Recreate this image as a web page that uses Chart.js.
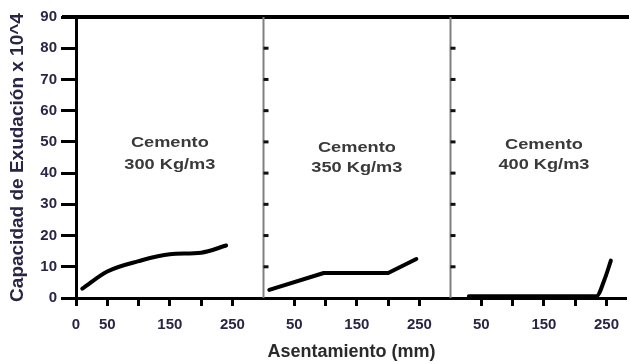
<!DOCTYPE html>
<html>
<head>
<meta charset="utf-8">
<script src="https://cdn.jsdelivr.net/npm/chart.js@4.4.1/dist/chart.umd.min.js"></script>
<style>
html,body{margin:0;padding:0;background:#fff;}
#wrap{width:629px;height:364px;}
</style>
</head>
<body>
<div id="wrap"><canvas id="c" width="629" height="364"></canvas></div>
<script>
// ---- data (panel-local x in mm, y = capacidad x 10^4) ----
const panelNames = ["Cemento", "Cemento", "Cemento"];
const panelDoses = ["300 Kg/m3", "350 Kg/m3", "400 Kg/m3"];
const slump300 = [10, 50, 100, 150, 200, 240];
const bleed300 = [3, 8.5, 11.8, 14.0, 14.5, 16.8];
const slump350 = [10, 97, 200, 245];
const bleed350 = [2.6, 8, 8, 12.5];
const slump400 = [30, 234, 247, 257];
const bleed400 = [0.6, 0.6, 6, 12];
const yTicks = [0, 10, 20, 30, 40, 50, 60, 70, 80, 90];
const xTicksFirst = [0, 50, 100, 150, 200, 250];
const xTicksOther = [50, 100, 150, 200, 250];
const xLabelsShown = [0, 50, 150, 250];

const PANEL = 299;      // width of one panel in x units
const XMAX = 880.6;
const FONT = '"Liberation Sans", Arial, sans-serif';

function pts(xs, ys, k) { return xs.map((x, i) => ({x: x + k * PANEL, y: ys[i]})); }

const tickVals = [];
xTicksFirst.forEach(v => tickVals.push({value: v, local: v}));
[1, 2].forEach(k => xTicksOther.forEach(v => tickVals.push({value: v + k * PANEL, local: v})));

const framePlugin = {
  id: 'frame',
  afterDatasetsDraw(chart) {
    const {ctx, chartArea: a, scales: {x, y}} = chart;
    ctx.save();
    ctx.strokeStyle = '#000';
    ctx.lineWidth = 4;
    ctx.beginPath();
    ctx.moveTo(a.left - 14, a.top);
    ctx.lineTo(chart.width, a.top);
    ctx.stroke();
    [1, 2].forEach(k => {
      const px = Math.round(x.getPixelForValue(k * PANEL)) + 0.5;
      ctx.strokeStyle = '#808080';
      ctx.lineWidth = 2;
      ctx.beginPath();
      ctx.moveTo(px, a.top);
      ctx.lineTo(px, a.bottom);
      ctx.stroke();
      ctx.strokeStyle = '#111';
      ctx.lineWidth = 3;
      for (let v = 10; v <= 80; v += 10) {
        const py = y.getPixelForValue(v);
        ctx.beginPath();
        ctx.moveTo(px, py);
        ctx.lineTo(px + 5, py);
        ctx.stroke();
      }
    });
    ctx.fillStyle = '#3a3a3a';
    ctx.font = 'bold 14px ' + FONT;
    ctx.textAlign = 'center';
    ctx.textBaseline = 'middle';
    const lineY = [[49.5, 42.6], [48, 41.6], [49, 42.6]];
    [0, 1, 2].forEach(k => {
      const cx = x.getPixelForValue(150 + k * PANEL);
      [panelNames[k], panelDoses[k]].forEach((t, j) => {
        const cy = y.getPixelForValue(lineY[k][j]);
        ctx.save();
        ctx.translate(cx, cy);
        ctx.scale(1.3, 1);
        ctx.fillText(t, 0, 0);
        ctx.restore();
      });
    });
    ctx.restore();
  }
};

const lineStyle = {borderColor: '#000', borderWidth: 4, pointRadius: 0, fill: false, clip: false, borderCapStyle: 'round', borderJoinStyle: 'round'};

new Chart(document.getElementById('c'), {
  type: 'line',
  data: {
    datasets: [
      Object.assign({label: '300', data: pts(slump300, bleed300, 0), cubicInterpolationMode: 'monotone'}, lineStyle),
      Object.assign({label: '350', data: pts(slump350, bleed350, 1), tension: 0}, lineStyle),
      Object.assign({label: '400', data: pts(slump400, bleed400, 2), cubicInterpolationMode: 'monotone'}, lineStyle)
    ]
  },
  options: {
    responsive: false,
    animation: false,
    layout: {padding: {top: 17, right: 0, left: 0, bottom: 0}},
    plugins: {legend: {display: false}, tooltip: {enabled: false}},
    scales: {
      x: {
        type: 'linear',
        min: 0,
        max: XMAX,
        afterFit(s) { s.height = 66; },
        afterBuildTicks(s) { s.ticks = tickVals.map(t => ({value: t.value})); },
        ticks: {
          autoSkip: false,
          maxRotation: 0,
          padding: 10,
          color: '#2a2545',
          font: {family: FONT, size: 15, weight: 'bold'},
          callback(value) {
            const t = tickVals.find(o => Math.abs(o.value - value) < 0.01);
            return t && xLabelsShown.includes(t.local) ? String(t.local) : '';
          }
        },
        grid: {drawOnChartArea: false, drawTicks: true, tickLength: 8, tickWidth: 3, tickColor: '#000'},
        border: {display: true, color: '#000', width: 3},
        title: {
          display: true,
          text: 'Asentamiento (mm)',
          color: '#2a2a2a',
          font: {family: FONT, size: 18, weight: 'bold'},
          padding: {top: 0, bottom: 1}
        }
      },
      y: {
        min: 0,
        max: 90,
        afterFit(s) { s.width = 76; },
        afterBuildTicks(s) { s.ticks = yTicks.map(v => ({value: v})); },
        ticks: {
          padding: 4,
          color: '#2a2545',
          font: {family: FONT, size: 15, weight: 'bold'}
        },
        grid: {drawOnChartArea: false, drawTicks: true, tickLength: 15, tickWidth: 3, tickColor: '#000'},
        border: {display: true, color: '#000', width: 3},
        title: {
          display: true,
          text: 'Capacidad de Exudación x 10^4',
          color: '#2a2545',
          font: {family: FONT, size: 19, weight: 'bold'},
          padding: {top: 6, bottom: 0}
        }
      }
    }
  },
  plugins: [framePlugin]
});
</script>
</body>
</html>
